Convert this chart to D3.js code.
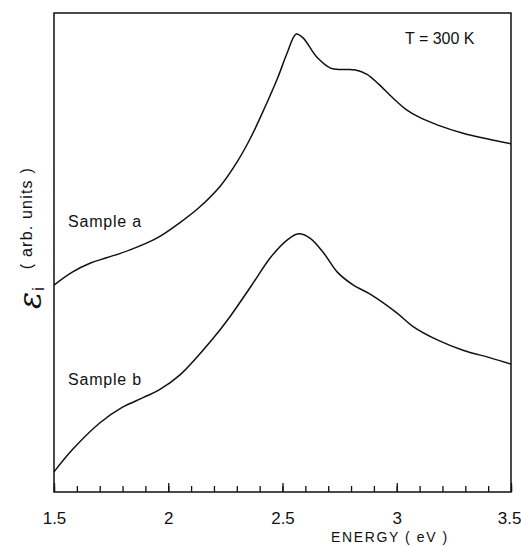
<!DOCTYPE html>
<html>
<head>
<meta charset="utf-8">
<script src="https://cdn.jsdelivr.net/npm/d3@7"></script>
<style>
  body { margin: 0; background: #fff; }
  svg { display: block; }
</style>
</head>
<body>
<div id="chart"></div>
<script>
// Energy (eV) and eps_i in arbitrary units
const energyA = [1.50, 1.58, 1.66, 1.73, 1.83, 1.95, 2.05, 2.14, 2.23, 2.30, 2.36, 2.42, 2.48, 2.52, 2.56, 2.59, 2.65, 2.71, 2.76, 2.82, 2.87, 2.92, 2.98, 3.04, 3.10, 3.18, 3.29, 3.40, 3.50]
const valuesA = [43.2, 45.9, 47.8, 48.9, 50.5, 53.0, 56.2, 59.6, 64.0, 68.8, 73.9, 80.0, 86.6, 91.6, 95.6, 94.8, 90.8, 88.5, 88.2, 88.1, 87.2, 85.2, 82.4, 79.9, 78.2, 76.6, 74.9, 73.7, 72.7]

const energyB = [1.50, 1.58, 1.70, 1.80, 1.89, 1.96, 2.05, 2.20, 2.27, 2.36, 2.45, 2.52, 2.57, 2.62, 2.68, 2.74, 2.81, 2.88, 3.00, 3.07, 3.18, 3.29, 3.41, 3.50]
const valuesB = [4.2, 8.8, 14.4, 17.7, 19.7, 21.3, 24.4, 32.3, 36.6, 42.8, 49.1, 52.6, 53.9, 53.0, 49.9, 45.9, 43.2, 41.4, 37.4, 34.6, 31.7, 29.6, 28.0, 26.7]

const majorTicks = [1.5, 2, 2.5, 3, 3.5]
const tickLabels = ["1.5", "2", "2.5", "3", "3.5"]
const minorTicks = d3.range(15, 36).map(d => d / 10)

const width = 521
const height = 546
const margin = { top: 13, right: 10, bottom: 54, left: 54 }
const font = "'Liberation Sans', Arial, sans-serif"

const svg = d3.select("#chart")
  .append("svg")
  .attr("width", width)
  .attr("height", height)
  .style("font-family", font)

const x = d3.scaleLinear()
  .domain([1.5, 3.5])
  .range([margin.left, width - margin.right])

const y = d3.scaleLinear()
  .domain([0, 100])
  .range([height - margin.bottom, margin.top])

// Frame
svg.append("rect")
  .attr("x", x(1.5))
  .attr("y", y(100))
  .attr("width", x(3.5) - x(1.5))
  .attr("height", y(0) - y(100))
  .attr("fill", "none")
  .attr("stroke", "#111")
  .attr("stroke-width", 1.5)

// Bottom axis, ticks pointing inward
const axisY = y(0)
svg.append("g")
  .attr("transform", `translate(0,${axisY})`)
  .call(d3.axisBottom(x).tickValues(minorTicks).tickSize(-6).tickFormat(""))
  .call(g => g.select(".domain").remove())
  .call(g => g.selectAll("line").attr("stroke", "#111").attr("stroke-width", 1.3))

svg.append("g")
  .attr("transform", `translate(0,${axisY})`)
  .call(d3.axisBottom(x).tickValues(majorTicks).tickSize(-9).tickPadding(20)
    .tickFormat((d, i) => tickLabels[i]))
  .call(g => g.select(".domain").remove())
  .call(g => g.selectAll("line").attr("stroke", "#111").attr("stroke-width", 1.3))
  .call(g => g.selectAll("text")
    .attr("fill", "#111")
    .style("font-size", "17px")
    .style("font-family", font))
  // last label sits at the page edge
  .call(g => g.selectAll("text").filter(d => d === 3.5)
    .attr("text-anchor", "end")
    .attr("dx", 10))

svg.append("text")
  .attr("x", 390)
  .attr("y", 542)
  .attr("text-anchor", "middle")
  .attr("fill", "#111")
  .style("font-size", "14px")
  .style("letter-spacing", "1.6px")
  .text("ENERGY ( eV )")

// Y label, rotated
const eps = svg.append("text")
  .attr("transform", "translate(41,309) rotate(-90)")
  .attr("fill", "#111")
eps.append("tspan")
  .style("font-size", "32px")
  .style("font-family", "'DejaVu Serif', serif")
  .style("font-style", "italic")
  .text("ε")
eps.append("tspan")
  .style("font-size", "16px")
  .attr("dy", 3)
  .attr("dx", 1)
  .text("i")

svg.append("text")
  .attr("transform", "translate(32,167) rotate(-90)")
  .attr("text-anchor", "end")
  .attr("fill", "#111")
  .style("font-size", "16px")
  .style("letter-spacing", "1.2px")
  .text("( arb. units )")

// Curves
const line = d3.line()
  .x(d => x(d[0]))
  .y(d => y(d[1]))
  .curve(d3.curveCatmullRom.alpha(0.5))

const series = [
  d3.zip(energyA, valuesA),
  d3.zip(energyB, valuesB)
]

svg.selectAll(".curve")
  .data(series)
  .enter()
  .append("path")
  .attr("class", "curve")
  .attr("d", line)
  .attr("fill", "none")
  .attr("stroke", "#111")
  .attr("stroke-width", 1.5)

// Annotations
const notes = [
  { t: "Sample a", x: 68, y: 227, size: 16, ls: 0.8 },
  { t: "Sample b", x: 68, y: 385, size: 16, ls: 0.8 },
  { t: "T = 300 K", x: 405, y: 44, size: 16, ls: 0 }
]
svg.selectAll(".note")
  .data(notes)
  .enter()
  .append("text")
  .attr("class", "note")
  .attr("x", d => d.x)
  .attr("y", d => d.y)
  .attr("fill", "#111")
  .style("font-size", d => d.size + "px")
  .style("letter-spacing", d => d.ls + "px")
  .text(d => d.t)
</script>
</body>
</html>
